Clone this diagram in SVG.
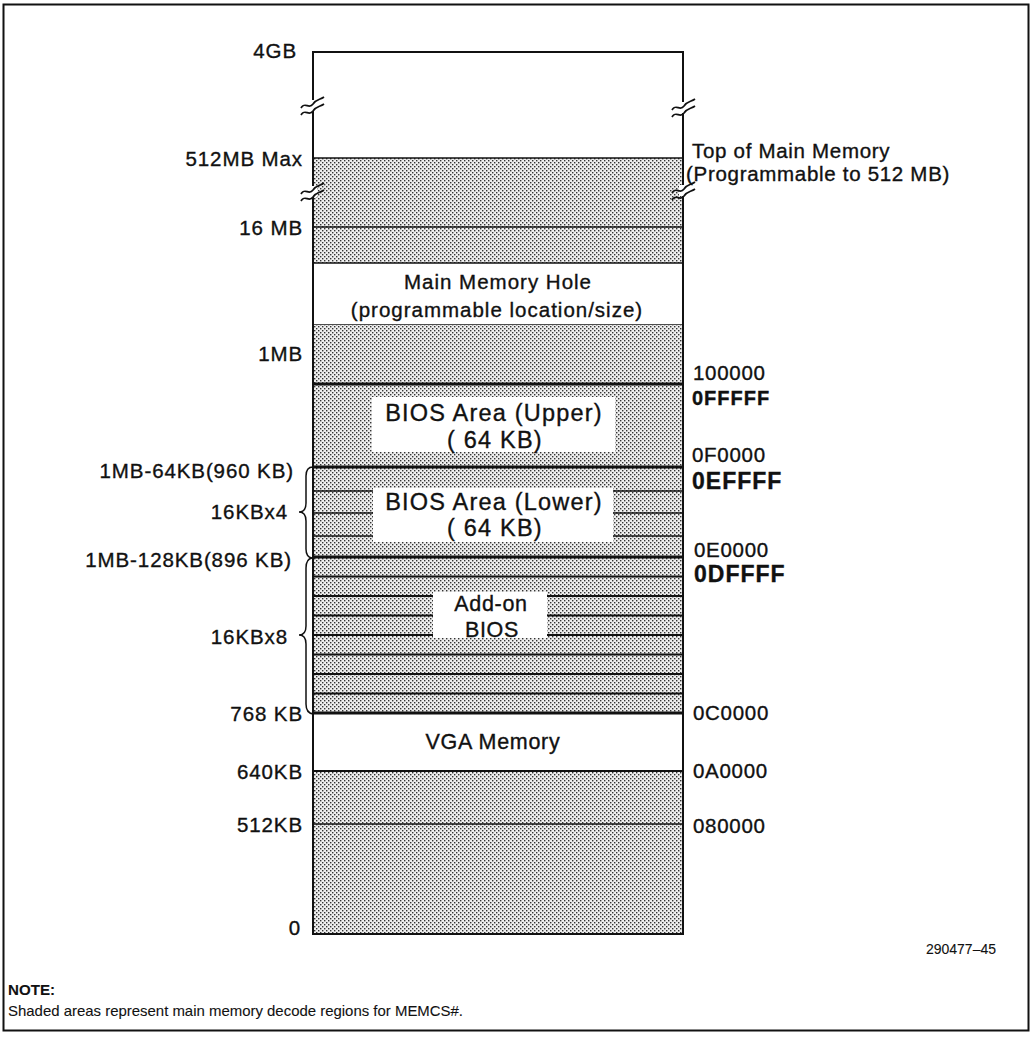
<svg xmlns="http://www.w3.org/2000/svg" width="1033" height="1037" viewBox="0 0 1033 1037">
<defs>
<pattern id="dots" width="4" height="4" patternUnits="userSpaceOnUse">
<rect width="4" height="4" fill="#eeeeee"/>
<rect x="0" y="0" width="1.4" height="1.4" fill="#333"/>
<rect x="2" y="2" width="1.4" height="1.4" fill="#333"/>
</pattern>
</defs>
<style>
text{font-family:"Liberation Sans",Arial,sans-serif;fill:#111;stroke:#111;stroke-width:0.35}
.l{font-size:20.5px;letter-spacing:0.9px;text-anchor:end}
.r{font-size:20.5px;letter-spacing:0.7px}
.rb{font-size:20px;font-weight:bold;letter-spacing:1px}
.rbb{font-size:23px;font-weight:bold;letter-spacing:1px}
.c{font-size:20.5px;letter-spacing:1px;text-anchor:middle}
.cb{font-size:23.5px;letter-spacing:1.2px;text-anchor:middle}
.ca{font-size:21.5px;letter-spacing:0.7px;text-anchor:middle}
.sh{fill:url(#dots)}
.wh{fill:#fff}
.thin{stroke:#111;stroke-width:1.5;fill:none}
.mid{stroke:#111;stroke-width:2;fill:none}
.thick{stroke:#111;stroke-width:3;fill:none}
.brk{stroke:#111;stroke-width:1.7;fill:none}
</style>
<rect x="3.5" y="4.5" width="1025" height="1026" fill="#fff" stroke="#111" stroke-width="2"/>

<g id="region-top">
<rect class="wh" x="313" y="52" width="370" height="106"/>
</g>
<g id="region-main-upper">
<rect class="sh" x="313" y="158" width="370" height="105"/>
<line class="thin" x1="313" y1="158" x2="683" y2="158"/>
<line class="thin" x1="313" y1="227" x2="683" y2="227"/>
</g>
<g id="region-hole">
<rect class="wh" x="313" y="263" width="370" height="62"/>
<line class="thin" x1="313" y1="263" x2="683" y2="263"/>
<line class="thin" x1="313" y1="325" x2="683" y2="325"/>
<text class="c" x="498" y="289">Main Memory Hole</text>
<text class="c" x="497" y="317">(programmable location/size)</text>
</g>
<g id="region-below-hole">
<rect class="sh" x="313" y="325" width="370" height="59"/>
</g>
<g id="region-bios-upper">
<rect class="sh" x="313" y="384" width="370" height="83"/>
<rect class="wh" x="372" y="397" width="243" height="55"/>
<line class="thick" x1="313" y1="384" x2="683" y2="384"/>
<text class="cb" x="494" y="421">BIOS Area (Upper)</text>
<text class="cb" x="495" y="448">( 64 KB)</text>
</g>
<g id="region-bios-lower">
<rect class="sh" x="313" y="467" width="370" height="90"/>
<rect class="wh" x="373" y="488" width="240" height="54"/>
<line class="thick" x1="313" y1="467" x2="683" y2="467"/>
<line class="thin" x1="313" y1="491" x2="373" y2="491"/>
<line class="thin" x1="613" y1="491" x2="683" y2="491"/>
<line class="thin" x1="313" y1="513" x2="373" y2="513"/>
<line class="thin" x1="613" y1="513" x2="683" y2="513"/>
<line class="thin" x1="313" y1="536" x2="373" y2="536"/>
<line class="thin" x1="613" y1="536" x2="683" y2="536"/>
<text class="cb" x="494" y="510">BIOS Area (Lower)</text>
<text class="cb" x="495" y="536">( 64 KB)</text>
</g>
<g id="region-addon-bios">
<rect class="sh" x="313" y="557" width="370" height="156"/>
<rect class="wh" x="433" y="592" width="114" height="46"/>
<line class="thick" x1="313" y1="557" x2="683" y2="557"/>
<line class="mid" x1="313" y1="576.5" x2="683" y2="576.5"/>
<line class="mid" x1="313" y1="596" x2="433" y2="596"/>
<line class="mid" x1="547" y1="596" x2="683" y2="596"/>
<line class="mid" x1="313" y1="615.5" x2="433" y2="615.5"/>
<line class="mid" x1="547" y1="615.5" x2="683" y2="615.5"/>
<line class="mid" x1="313" y1="635" x2="433" y2="635"/>
<line class="mid" x1="547" y1="635" x2="683" y2="635"/>
<line class="mid" x1="313" y1="654.5" x2="683" y2="654.5"/>
<line class="mid" x1="313" y1="674" x2="683" y2="674"/>
<line class="mid" x1="313" y1="693.5" x2="683" y2="693.5"/>
<text class="ca" x="491" y="611">Add-on</text>
<text class="ca" x="492" y="637">BIOS</text>
</g>
<g id="region-vga">
<rect class="wh" x="313" y="713" width="370" height="58"/>
<line class="thick" x1="313" y1="713" x2="683" y2="713"/>
<text class="ca" x="493" y="749">VGA Memory</text>
</g>
<g id="region-low">
<rect class="sh" x="313" y="771" width="370" height="163"/>
<line class="mid" x1="313" y1="771" x2="683" y2="771"/>
<line class="thin" x1="313" y1="824" x2="683" y2="824"/>
</g>
<g id="column-outline">
<rect x="313" y="52" width="370" height="882" fill="none" stroke="#111" stroke-width="2"/>
</g>

<g id="break-marks">
<rect x="309" y="100" width="8" height="11" fill="#fff"/>
<path class="brk" d="M301 108 C305 101,309 110,313 104 C316 99,320 100,324 97"/>
<path class="brk" d="M301 115 C305 108,309 117,313 111 C316 106,320 107,324 104"/>
<rect x="679" y="102" width="8" height="11" fill="#fff"/>
<path class="brk" d="M672 110 C676 103,680 112,684 106 C687 101,691 102,695 99"/>
<path class="brk" d="M672 117 C676 110,680 119,684 113 C687 108,691 109,695 106"/>
<rect x="309" y="186" width="8" height="11" fill="#fff"/>
<path class="brk" d="M301 194 C305 187,309 196,313 190 C316 185,320 186,324 183"/>
<path class="brk" d="M301 201 C305 194,309 203,313 197 C316 192,320 193,324 190"/>
<rect x="679" y="185" width="8" height="11" fill="#fff"/>
<path class="brk" d="M672 193 C676 186,680 195,684 189 C687 184,691 185,695 182"/>
<path class="brk" d="M672 200 C676 193,680 202,684 196 C687 191,691 192,695 189"/>
</g>

<g id="connectors">
<path class="thin" d="M313 467 Q306 467 306 476 L306 503 Q306 512 299 512 Q306 512 306 521 L306 549 Q306 557 312 558"/>
<path class="thin" d="M312 558 Q306 559 306 568 L306 626 Q306 635 299 635 Q306 635 306 644 L306 704 Q306 713 313 714"/>
</g>

<g id="left-labels">
<text class="l" x="297" y="58">4GB</text>
<text class="l" x="303" y="166">512MB Max</text>
<text class="l" x="303" y="235">16 MB</text>
<text class="l" x="303" y="361">1MB</text>
<text class="l" x="294" y="478">1MB-64KB(960 KB)</text>
<text class="l" x="288" y="519">16KBx4</text>
<text class="l" x="292" y="567">1MB-128KB(896 KB)</text>
<text class="l" x="288" y="644">16KBx8</text>
<text class="l" x="303" y="721">768 KB</text>
<text class="l" x="303" y="779">640KB</text>
<text class="l" x="303" y="832">512KB</text>
<text class="l" x="301" y="935">0</text>
</g>

<g id="right-labels">
<text class="r" x="692" y="158">Top of Main Memory</text>
<text class="r" x="686" y="181">(Programmable to 512 MB)</text>
<text class="r" x="693" y="380">100000</text>
<text class="rb" x="692" y="405">0FFFFF</text>
<text class="r" x="692" y="462">0F0000</text>
<text class="rbb" x="692" y="489">0EFFFF</text>
<text class="r" x="694" y="557">0E0000</text>
<text class="rbb" x="694" y="582">0DFFFF</text>
<text class="r" x="693" y="720">0C0000</text>
<text class="r" x="693" y="778">0A0000</text>
<text class="r" x="693" y="833">080000</text>
</g>

<g id="footer">
<text x="996" y="954" style="font-size:14px;text-anchor:end;stroke-width:0.1">290477–45</text>
<text x="8" y="995" style="font-size:15px;font-weight:bold;stroke-width:0.1" textLength="47" lengthAdjust="spacingAndGlyphs">NOTE:</text>
<text x="8" y="1016" style="font-size:15px;stroke-width:0.1" textLength="455" lengthAdjust="spacingAndGlyphs">Shaded areas represent main memory decode regions for MEMCS#.</text>
</g>
</svg>
